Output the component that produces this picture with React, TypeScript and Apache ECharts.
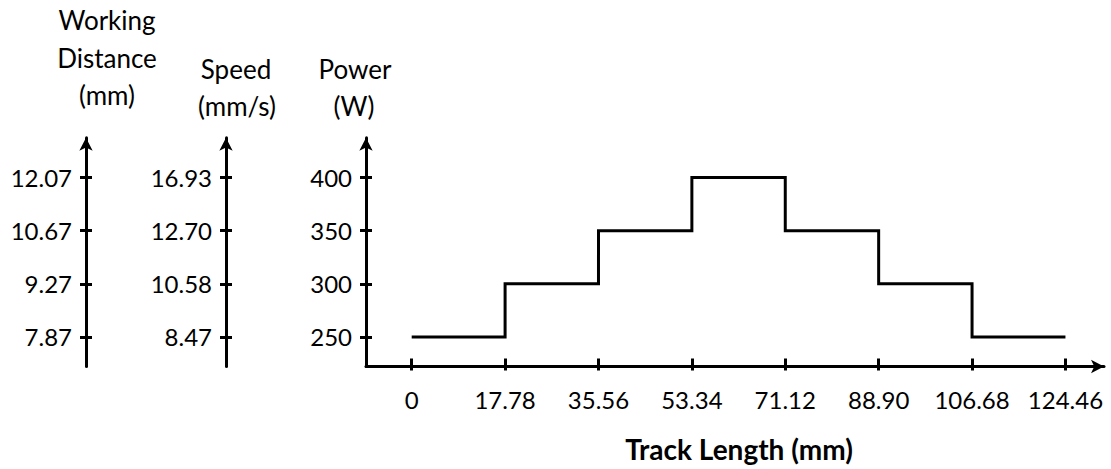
import React, { useEffect, useRef } from "react";
import * as echarts from "echarts";

const trackTicks = [0, 17.78, 35.56, 53.34, 71.12, 88.9, 106.68, 124.46];
const trackTickLabels = ["0", "17.78", "35.56", "53.34", "71.12", "88.90", "106.68", "124.46"];
const powerTicks = [250, 300, 350, 400];
const powerTickLabels = ["250", "300", "350", "400"];
const speedTickLabels = ["8.47", "10.58", "12.70", "16.93"];
const distanceTickLabels = ["7.87", "9.27", "10.67", "12.07"];
const stepX = [0, 17.78, 35.56, 53.34, 71.12, 88.9, 106.68, 124.46];
const stepPower = [250, 300, 350, 400, 350, 300, 250, 250];

const FONT = "Lato";
const BLACK = "#000";

function labelFor(ticks: number[], labels: string[]) {
  return (v: number) => {
    let best = 0;
    for (let i = 1; i < ticks.length; i++) {
      if (Math.abs(ticks[i] - v) < Math.abs(ticks[best] - v)) best = i;
    }
    return labels[best];
  };
}

export default function App() {
  const ref = useRef<HTMLDivElement>(null);
  useEffect(() => {
    if (!ref.current) return;
    const chart = echarts.init(ref.current, null, { renderer: "svg" });
    const yMin = 222.2;
    const yMax = 437.5;
    const mkY = (offset: number, labels: string[], inside: boolean) => ({
      type: "value",
      position: "left",
      offset,
      min: yMin,
      max: yMax,
      splitLine: { show: false },
      axisLine: inside
        ? { show: false, onZero: false }
        : { show: true, onZero: false, symbol: ["none", "arrow"], symbolSize: [10, 13], lineStyle: { color: BLACK, width: 3 } },
      axisTick: { show: true, inside, length: 6, customValues: powerTicks, lineStyle: { color: BLACK, width: 3 } },
      axisLabel: inside
        ? { show: false }
        : {
            show: true,
            customValues: powerTicks,
            formatter: labelFor(powerTicks, labels),
            color: BLACK,
            fontFamily: FONT,
            fontSize: 24,
            margin: 14,
          },
    });
    const xMin = -8.7;
    const xMax = 131.8;
    const mkX = (inside: boolean) => ({
      type: "value",
      position: "bottom",
      min: xMin,
      max: xMax,
      splitLine: { show: false },
      axisLine: inside
        ? { show: false, onZero: false }
        : { show: true, onZero: false, symbol: ["none", "arrow"], symbolSize: [10, 13], lineStyle: { color: BLACK, width: 3 } },
      axisTick: { show: true, inside, length: inside ? 8 : 4, customValues: trackTicks, lineStyle: { color: BLACK, width: 3 } },
      axisLabel: inside
        ? { show: false }
        : {
            show: true,
            customValues: trackTicks,
            formatter: labelFor(trackTicks, trackTickLabels),
            color: BLACK,
            fontFamily: FONT,
            fontSize: 24,
            margin: 21,
          },
    });
    const txt = (s: string, x: number, y: number, bold = false, size = 26) => ({
      type: "text",
      x,
      y,
      style: {
        text: s,
        fill: BLACK,
        fontFamily: FONT,
        fontSize: size,
        fontWeight: bold ? "bold" : "normal",
        align: "center",
        verticalAlign: "middle",
      },
    });
    chart.setOption({
      animation: false,
      backgroundColor: "#fff",
      grid: { left: 366, right: 7, top: 137.7, bottom: 102.5, containLabel: false },
      xAxis: [mkX(false), mkX(true)],
      yAxis: [
        mkY(0, powerTickLabels, false),
        mkY(0, powerTickLabels, true),
        mkY(140, speedTickLabels, false),
        mkY(140, speedTickLabels, true),
        mkY(280, distanceTickLabels, false),
        mkY(280, distanceTickLabels, true),
      ],
      series: [
        {
          type: "line",
          step: "end",
          xAxisIndex: 0,
          yAxisIndex: 0,
          showSymbol: false,
          symbol: "none",
          lineStyle: { color: BLACK, width: 3, join: "miter" },
          data: stepX.map((x, i) => [x, stepPower[i]]),
        },
      ],
      graphic: [
        txt("Working", 107, 20),
        txt("Distance", 107, 58),
        txt("(mm)", 107, 95),
        txt("Speed", 236, 69),
        txt("(mm/s)", 237, 106),
        txt("Power", 355, 69),
        txt("(W)", 354, 106),
        txt("Track Length (mm)", 739, 449, true, 28),
      ],
    });
    return () => chart.dispose();
  }, []);
  return (
    <div
      ref={ref}
      style={{ position: "absolute", left: 0, top: 0, width: 1111, height: 469, background: "#fff" }}
    />
  );
}
